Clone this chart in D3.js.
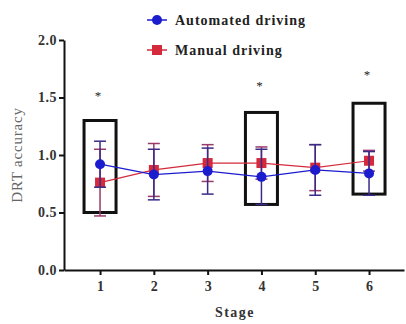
<!DOCTYPE html>
<html><head><meta charset="utf-8">
<script src="https://cdn.jsdelivr.net/npm/d3@7"></script>
<style>body{margin:0;background:#fff}svg{display:block}</style>
</head><body>
<script>
const stages = [1, 2, 3, 4, 5, 6];
const automatedMean = [0.92, 0.83, 0.86, 0.81, 0.87, 0.84];
const automatedSD   = [0.20, 0.22, 0.20, 0.24, 0.22, 0.19];
const manualMean    = [0.76, 0.87, 0.93, 0.93, 0.89, 0.95];
const manualSD      = [0.29, 0.23, 0.16, 0.14, 0.20, 0.09];
const yTicks = [0.0, 0.5, 1.0, 1.5, 2.0];
const sigStages = [1, 4, 6];
const sigBoxLow  = [0.50, 0.57, 0.66];
const sigBoxHigh = [1.30, 1.37, 1.45];
const starY = [1.54, 1.63, 1.72];
const seriesNames = ["Automated driving", "Manual driving"];

const FONT = "'Liberation Serif', 'DejaVu Serif', 'Times New Roman', serif";
const W = 406, H = 324;
const svg = d3.select("body").append("svg").attr("width", W).attr("height", H)
  .style("font-family", FONT);
const x = d3.scaleLinear().domain([0.33, 6.65]).range([64, 404]);
const y = d3.scaleLinear().domain([0, 2]).range([270, 40]);

const blue = "#1c1ccf", red = "#d42a3c";
const blueErr = "#3a2a8a", redErr = "#9a3a6a";

// axes
const yAxis = svg.append("g").attr("transform", "translate(64,0)")
  .call(d3.axisLeft(y).tickValues(yTicks).tickFormat(d3.format(".1f")).tickSize(5).tickSizeOuter(0));
const xAxis = svg.append("g").attr("transform", "translate(0,270)")
  .call(d3.axisBottom(x).tickValues(stages).tickFormat(d3.format("d")).tickSize(5).tickSizeOuter(0));
[yAxis, xAxis].forEach(g => {
  g.attr("font-family", null);
  g.select(".domain").attr("stroke", "#111").attr("stroke-width", 2);
  g.selectAll(".tick line").attr("stroke", "#111").attr("stroke-width", 2);
  g.selectAll(".tick text").attr("fill", "#333").attr("font-size", 14).attr("font-weight", "bold")
    .style("font-family", FONT);
});
yAxis.selectAll(".tick text").attr("x", -7).style("letter-spacing", "0.5px");
xAxis.selectAll(".tick text").attr("y", 11);

svg.append("text").attr("transform", "translate(22,155) rotate(-90)").style("font-family", FONT)
  .style("letter-spacing", "0.8px")
  .attr("text-anchor", "middle").attr("font-size", 15).attr("fill", "#666").text("DRT accuracy");
svg.append("text").attr("x", 235).attr("y", 317).attr("text-anchor", "middle").style("font-family", FONT)
  .style("letter-spacing", "1.5px")
  .attr("font-size", 14).attr("font-weight", "bold").attr("fill", "#333").text("Stage");

// significance boxes
svg.selectAll(".sigbox").data(sigStages).enter().append("rect")
  .attr("x", d => x(d) - 16).attr("width", 32)
  .attr("y", (d, i) => y(sigBoxHigh[i]))
  .attr("height", (d, i) => y(sigBoxLow[i]) - y(sigBoxHigh[i]))
  .attr("fill", "none").attr("stroke", "#111").attr("stroke-width", 3);
svg.selectAll(".star").data(sigStages).enter().append("text").style("font-family", FONT)
  .attr("x", d => x(d) - 2).attr("y", (d, i) => y(starY[i]) + 7)
  .attr("text-anchor", "middle").attr("font-size", 13).attr("fill", "#222").text("*");

function drawSeries(means, sds, col, errCol, shape) {
  const pts = stages.map((s, i) => ({s, m: means[i], sd: sds[i]}));
  const g = svg.append("g");
  g.append("path").datum(pts)
    .attr("d", d3.line().x(d => x(d.s)).y(d => y(d.m)))
    .attr("fill", "none").attr("stroke", col).attr("stroke-width", 1.2);
  pts.forEach(d => {
    const cx = x(d.s);
    g.append("line").attr("x1", cx).attr("x2", cx).attr("y1", y(d.m + d.sd)).attr("y2", y(d.m - d.sd))
      .attr("stroke", errCol).attr("stroke-width", 1.5);
    [d.m + d.sd, d.m - d.sd].forEach(v => g.append("line")
      .attr("x1", cx - 6).attr("x2", cx + 6).attr("y1", y(v)).attr("y2", y(v))
      .attr("stroke", errCol).attr("stroke-width", 1.5));
  });
  pts.forEach(d => {
    if (shape === "circle") g.append("circle").attr("cx", x(d.s)).attr("cy", y(d.m)).attr("r", 5).attr("fill", col);
    else g.append("rect").attr("x", x(d.s) - 5).attr("y", y(d.m) - 5).attr("width", 10).attr("height", 10).attr("fill", col);
  });
}
drawSeries(manualMean, manualSD, red, redErr, "square");
drawSeries(automatedMean, automatedSD, blue, blueErr, "circle");

// legend
const leg = [{n: seriesNames[0], c: blue, s: "circle", yy: 20}, {n: seriesNames[1], c: red, s: "square", yy: 50}];
leg.forEach(l => {
  svg.append("line").attr("x1", 147).attr("x2", 167).attr("y1", l.yy).attr("y2", l.yy).attr("stroke", l.c).attr("stroke-width", 1.5);
  if (l.s === "circle") svg.append("circle").attr("cx", 157).attr("cy", l.yy).attr("r", 5).attr("fill", l.c);
  else svg.append("rect").attr("x", 152).attr("y", l.yy - 5).attr("width", 10).attr("height", 10).attr("fill", l.c);
  svg.append("text").attr("x", 175).attr("y", l.yy + 5).style("font-family", FONT).style("letter-spacing", "1px")
    .attr("font-size", 14).attr("font-weight", "bold").attr("fill", "#222").text(l.n);
});
</script>
</body></html>
